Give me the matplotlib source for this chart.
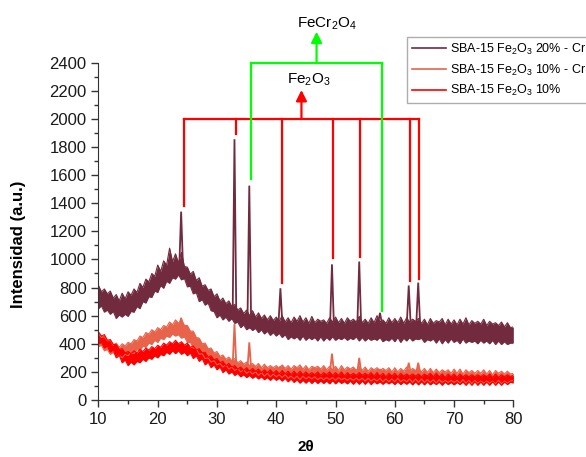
import matplotlib
matplotlib.use("Agg")
import matplotlib.pyplot as plt
import numpy as np
from matplotlib.lines import Line2D
from matplotlib.ticker import MultipleLocator

# sampling grid of the diffractograms (2theta, degrees)
two_theta = np.arange(10, 80.25, 0.5)

# each pattern is drawn as its noise band: upper and lower edge
# SBA-15 Fe2O3 20% - Cr
top_20cr = [
    815, 770, 790, 755, 775, 725, 750, 705, 760, 720,
    770, 745, 790, 765, 830, 800, 860, 840, 900, 880,
    960, 915, 990, 960, 1080, 985, 1040, 975, 1050, 950,
    945, 895, 915, 850, 870, 810, 820, 780, 790, 735,
    755, 705, 725, 685, 705, 665, 680, 640, 655, 615,
    640, 600, 635, 590, 620, 580, 605, 570, 600, 565,
    590, 560, 600, 555, 585, 550, 590, 560, 600, 555,
    585, 545, 595, 550, 575, 560, 570, 545, 585, 555,
    590, 550, 580, 545, 585, 560, 575, 555, 595, 550,
    575, 545, 585, 550, 600, 555, 570, 545, 585, 550,
    580, 550, 590, 545, 585, 555, 575, 560, 580, 545,
    575, 535, 580, 545, 565, 555, 580, 535, 575, 540,
    570, 535, 575, 540, 585, 535, 565, 545, 560, 540,
    575, 530, 560, 540, 550, 530, 555, 520, 550, 515,
    520,
]
bottom_20cr = [
    650, 670, 625, 640, 610, 630, 580, 605, 590, 610,
    595, 630, 625, 665, 650, 700, 690, 735, 730, 775,
    765, 815, 795, 845, 830, 870, 860, 890, 855, 865,
    805, 810, 755, 765, 700, 715, 675, 690, 635, 630,
    585, 605, 570, 590, 560, 580, 545, 555, 515, 535,
    500, 515, 495, 510, 480, 500, 470, 490, 460, 480,
    455, 475, 445, 465, 430, 450, 435, 450, 425, 455,
    425, 445, 430, 445, 420, 450, 420, 445, 425, 450,
    425, 440, 430, 445, 425, 440, 430, 450, 420, 445,
    420, 440, 425, 435, 425, 445, 415, 430, 420, 440,
    415, 445, 410, 440, 420, 445, 420, 435, 430, 440,
    410, 430, 420, 435, 405, 435, 400, 430, 405, 435,
    410, 425, 400, 435, 405, 420, 410, 420, 400, 425,
    405, 420, 400, 425, 395, 420, 395, 415, 395, 405,
    405,
]

# SBA-15 Fe2O3 10% - Cr
top_10cr = [
    475, 445, 450, 420, 425, 390, 405, 375, 400, 385,
    410, 400, 430, 420, 455, 445, 480, 470, 500, 485,
    515, 500, 530, 520, 555, 535, 570, 545, 575, 530,
    530, 490, 490, 445, 440, 400, 405, 365, 370, 335,
    345, 310, 320, 290, 305, 280, 295, 265, 280, 255,
    270, 245, 260, 240, 260, 230, 255, 230, 245, 230,
    245, 225, 250, 225, 245, 220, 245, 230, 250, 220,
    245, 215, 240, 230, 240, 220, 245, 215, 240, 215,
    240, 210, 245, 215, 235, 220, 235, 210, 240, 210,
    235, 205, 230, 215, 230, 210, 225, 210, 230, 200,
    230, 200, 225, 205, 235, 205, 225, 210, 225, 200,
    225, 195, 225, 195, 220, 195, 215, 200, 215, 190,
    220, 190, 220, 185, 215, 195, 210, 190, 210, 190,
    215, 185, 210, 180, 210, 190, 205, 185, 205, 185,
    190,
]
bottom_10cr = [
    380, 390, 350, 360, 325, 340, 305, 320, 300, 325,
    315, 340, 330, 360, 350, 385, 375, 405, 395, 425,
    410, 440, 430, 455, 445, 470, 455, 465, 440, 450,
    410, 410, 370, 365, 325, 330, 295, 300, 270, 280,
    250, 260, 235, 250, 220, 235, 210, 225, 200, 215,
    190, 205, 185, 200, 175, 195, 170, 190, 165, 185,
    165, 180, 160, 180, 155, 170, 150, 170, 145, 170,
    150, 165, 150, 165, 145, 160, 145, 160, 145, 160,
    140, 160, 145, 155, 140, 155, 140, 155, 140, 155,
    135, 155, 135, 150, 135, 155, 130, 150, 130, 150,
    130, 155, 130, 145, 130, 150, 125, 150, 125, 150,
    125, 145, 125, 145, 120, 145, 125, 140, 125, 140,
    125, 140, 120, 145, 120, 140, 115, 140, 120, 135,
    120, 135, 120, 135, 115, 140, 115, 135, 120, 135,
    140,
]

# SBA-15 Fe2O3 10%
top_10 = [
    485, 455, 465, 425, 430, 395, 395, 360, 365, 335,
    345, 330, 350, 335, 360, 345, 370, 355, 380, 365,
    390, 375, 405, 390, 415, 400, 425, 400, 415, 390,
    405, 375, 385, 355, 365, 335, 340, 305, 315, 285,
    295, 265, 275, 245, 260, 235, 245, 220, 235, 210,
    230, 205, 225, 205, 220, 195, 215, 195, 215, 190,
    210, 185, 210, 185, 205, 180, 205, 180, 205, 180,
    200, 180, 195, 180, 200, 175, 195, 180, 200, 175,
    195, 175, 200, 170, 195, 175, 190, 175, 195, 175,
    190, 175, 195, 170, 195, 170, 190, 165, 190, 170,
    190, 165, 190, 170, 185, 170, 185, 170, 185, 165,
    185, 170, 190, 165, 190, 165, 185, 160, 185, 165,
    185, 160, 185, 165, 180, 165, 180, 165, 180, 165,
    180, 165, 185, 160, 185, 160, 180, 165, 180, 165,
    175,
]
bottom_10 = [
    400, 410, 370, 385, 340, 360, 300, 320, 265, 285,
    245, 270, 250, 275, 265, 290, 275, 300, 290, 315,
    300, 325, 315, 340, 325, 350, 330, 350, 325, 340,
    315, 335, 295, 315, 275, 295, 250, 270, 230, 250,
    215, 235, 195, 215, 185, 200, 175, 190, 165, 180,
    160, 175, 155, 170, 150, 165, 145, 160, 140, 160,
    140, 155, 135, 155, 130, 150, 125, 145, 120, 140,
    120, 140, 118, 138, 118, 135, 118, 135, 115, 138,
    115, 135, 118, 132, 115, 135, 112, 135, 112, 135,
    112, 135, 110, 132, 115, 130, 112, 130, 115, 130,
    110, 132, 110, 128, 112, 130, 108, 130, 108, 130,
    108, 130, 108, 125, 110, 128, 105, 128, 110, 125,
    108, 125, 110, 128, 105, 128, 105, 130, 105, 128,
    105, 128, 105, 130, 105, 128, 105, 128, 110, 128,
    120,
]

# sharp reflections: apex position, apex height and foot height
peak_2theta = [23.95, 32.95, 35.45, 40.7, 49.4, 54.0, 57.5, 62.35, 63.95]
peak_20cr = [1340, 1855, 1525, 795, 965, 985, 620, 815, 835]
foot_20cr = [960, 620, 580, 560, 560, 560, 550, 560, 560]
peak_10cr = [585, 540, 410, 240, 330, 300, 215, 265, 265]
foot_10cr = [520, 250, 230, 215, 210, 205, 200, 200, 200]

# phase markers
fe2o3_2theta = [24.4, 33.2, 40.9, 49.6, 54.2, 62.5, 64.1]
fe2o3_ends = [1380, 1890, 830, 1010, 1020, 850, 858]
fe2o3_level = 2000
fecr_2theta = [35.8, 57.8]
fecr_ends = [1570, 633]
fecr_level = 2400

labels = [
    "SBA-15 Fe$_2$O$_3$ 20% - Cr",
    "SBA-15 Fe$_2$O$_3$ 10% - Cr",
    "SBA-15 Fe$_2$O$_3$ 10%",
]
colors = ["#722a3e", "#e8634a", "#ff0000"]

plt.rcParams.update({
    "font.family": "Liberation Sans",
    "mathtext.fontset": "custom",
    "mathtext.rm": "Liberation Sans",
    "mathtext.it": "Liberation Sans:italic",
    "mathtext.bf": "Liberation Sans:bold",
})

fig = plt.figure(figsize=(5.86, 4.57), dpi=100)
ax = fig.add_axes([0.168, 0.1247, 0.708, 0.7383])

bands = [
    (top_20cr, bottom_20cr, peak_20cr, foot_20cr),
    (top_10cr, bottom_10cr, peak_10cr, foot_10cr),
    (top_10, bottom_10, None, None),
]
for (top, bottom, peaks, feet), color in zip(bands, colors):
    ax.fill_between(two_theta, bottom, top, color=color, lw=0)
    ax.plot(two_theta, top, color=color, lw=0.8)
    ax.plot(two_theta, bottom, color=color, lw=0.8)
    if peaks is not None:
        for xp, yp, yf in zip(peak_2theta, peaks, feet):
            ax.plot([xp - 0.3, xp, xp + 0.3], [yf, yp, yf], color=color,
                    lw=1.3, solid_joinstyle="miter")

# Fe2O3 bracket
red = "#ff0000"
ax.plot([fe2o3_2theta[0], fe2o3_2theta[-1]], [fe2o3_level] * 2, color=red, lw=1.6)
for xp, yend in zip(fe2o3_2theta, fe2o3_ends):
    ax.plot([xp, xp], [fe2o3_level, yend], color=red, lw=1.6)
xm = (fe2o3_2theta[0] + fe2o3_2theta[-1]) / 2
ax.annotate("", xy=(xm, 2205), xytext=(xm, fe2o3_level),
            arrowprops=dict(arrowstyle="-|>", color=red, lw=1.6,
                            mutation_scale=16, shrinkA=0, shrinkB=0),
            annotation_clip=False)
ax.text(41.8, 2250, "Fe$_2$O$_3$", fontsize=11, ha="left", va="baseline")

# FeCr2O4 bracket
green = "#00ff00"
ax.plot(fecr_2theta, [fecr_level] * 2, color=green, lw=1.6, clip_on=False)
for xp, yend in zip(fecr_2theta, fecr_ends):
    ax.plot([xp, xp], [fecr_level, yend], color=green, lw=1.6, clip_on=False)
xm = sum(fecr_2theta) / 2
ax.annotate("", xy=(xm, 2620), xytext=(xm, fecr_level),
            arrowprops=dict(arrowstyle="-|>", color=green, lw=1.6,
                            mutation_scale=16, shrinkA=0, shrinkB=0),
            annotation_clip=False)
ax.text(43.55, 2650, "FeCr$_2$O$_4$", fontsize=11, ha="left", va="baseline")

ax.set_xlim(10, 80)
ax.set_ylim(0, 2400)
ax.xaxis.set_major_locator(MultipleLocator(10))
ax.xaxis.set_minor_locator(MultipleLocator(5))
ax.yaxis.set_major_locator(MultipleLocator(200))
ax.yaxis.set_minor_locator(MultipleLocator(100))
ax.tick_params(which="both", direction="out", width=1, colors="#333333",
               labelcolor="#1a1a1a", labelsize=12)
ax.tick_params(which="major", length=5)
ax.tick_params(which="minor", length=3)
for side in ["top", "right"]:
    ax.spines[side].set_visible(False)
for side in ["left", "bottom"]:
    ax.spines[side].set_color("#333333")

ax.set_ylabel("Intensidad (a.u.)", fontsize=12, fontweight="bold")
ax.yaxis.set_label_coords(-0.175, 0.46)
ax.set_xlabel("2θ", fontsize=11, fontweight="bold")
ax.xaxis.set_label_coords(0.5, -0.118)

# the legend runs past the right edge of the figure, as in the original
handles = [Line2D([], [], color=c, lw=1.2) for c in colors]
leg = fig.legend(handles, labels, loc="upper left",
                 bbox_to_anchor=(407 / 586, 1 - 36.7 / 457),
                 fontsize=9, frameon=True, fancybox=False, borderaxespad=0,
                 handlelength=2.7, handletextpad=0.35, labelspacing=0.45,
                 borderpad=0.4)
leg.get_frame().set_edgecolor("#999999")
leg.get_frame().set_linewidth(1.0)

fig.savefig("out.png", dpi=100)
